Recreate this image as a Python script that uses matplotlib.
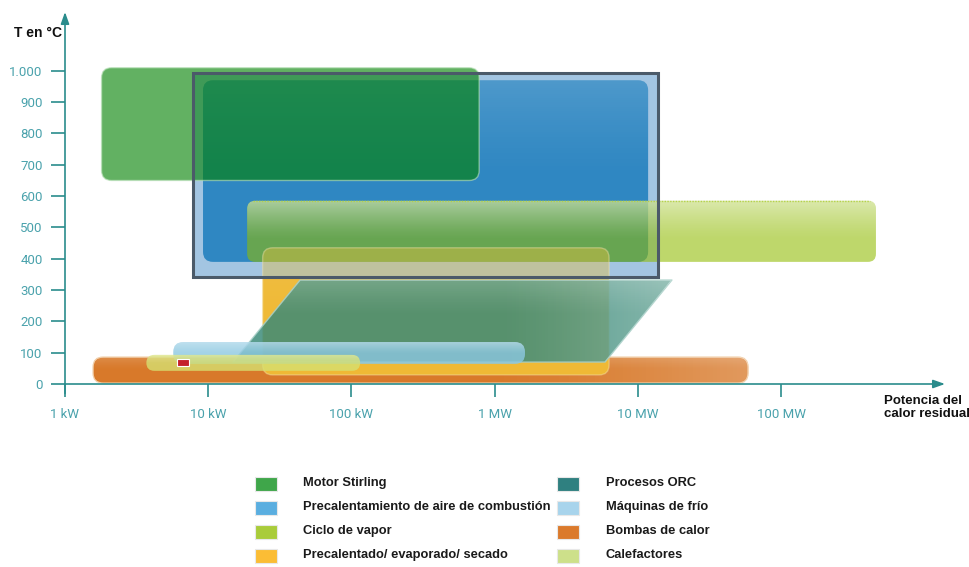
import numpy as np
import matplotlib.pyplot as plt
from matplotlib.patches import FancyBboxPatch, Polygon, Rectangle

# Ranges per technology: power in kW, temperature in °C
stirling_kw = (1.8, 780)
stirling_t = (650, 1010)
aire_kw = (9.2, 11800)
aire_t = (390, 970)
aire_zona_kw = (7.8, 13800)
aire_zona_t = (342, 994)
vapor_kw = (18.7, 460000)
vapor_t = (390, 585)
secado_kw = (24, 6300)
secado_t = (29, 435)
# ORC is a slanted band: (bottom-left, bottom-right, top-right, top-left)
orc_kw = (14.9, 5900, 17300, 43.8)
orc_t = (70, 332)
frio_kw = (5.7, 1630)
frio_t = (64, 134)
bombas_kw = (1.57, 58900)
bombas_t = (3, 86)
calef_kw = (3.7, 115)
calef_t = (42, 93)
marca_kw = (6.1, 7.3)
marca_t = (57, 80)

y_ticks = [0, 100, 200, 300, 400, 500, 600, 700, 800, 900, 1000]
y_labels = ['0', '100', '200', '300', '400', '500', '600', '700', '800', '900', '1.000']
x_ticks_kw = [1, 10, 100, 1000, 10000, 100000]
x_labels = ['1 kW', '10 kW', '100 kW', '1 MW', '10 MW', '100 MW']

legend_left = ['Motor Stirling', 'Precalentamiento de aire de combustión',
               'Ciclo de vapor', 'Precalentado/ evaporado/ secado']
legend_right = ['Procesos ORC', 'Máquinas de frío', 'Bombas de calor', 'Calefactores']
colors_left = ['#3fa64a', '#5aaee0', '#a9cc3a', '#fbbd35']
colors_right = ['#2f8080', '#a8d4ec', '#db7a2c', '#cde08a']

AXIS = '#2a8c8c'
TICK_TXT = '#4aa2ac'

W_PX, H_PX = 969, 567
fig = plt.figure(figsize=(W_PX / 100, H_PX / 100), dpi=100)
fig.patch.set_facecolor('white')

# x in decades of kW; 1 kW sits on the vertical axis
x_max = 6.145
y_max = 1188
ax = fig.add_axes([65 / W_PX, 1 - 384 / H_PX, 880 / W_PX, 372 / H_PX])
ax.set_xlim(0, x_max)
ax.set_ylim(0, y_max)

# rounded corners: ~8 px radius in both directions
px_x = x_max / 880
px_y = y_max / 372
aspect = px_y / px_x


def lx(v):
    return np.log10(v)


def rbox(kw, t, color, alpha=1.0, z=1, r=8, ec='none', lw=0, ls='-'):
    x0, x1 = lx(kw[0]), lx(kw[1])
    p = FancyBboxPatch((x0, t[0]), x1 - x0, t[1] - t[0],
                       boxstyle=f'round,pad=0,rounding_size={r * px_x}',
                       mutation_aspect=aspect, fc=color, ec=ec, lw=lw, ls=ls,
                       alpha=alpha, zorder=z)
    ax.add_patch(p)
    return p


def sheen(p, z, strength=0.35, start=0.45, horizontal=False, ext=None):
    # white highlight fading in towards the top (or the right) of a shape
    if ext is None:
        x0, y0 = p.get_x(), p.get_y()
        ext = (x0, x0 + p.get_width(), y0, y0 + p.get_height())
    g = np.linspace(0, 1, 64)
    a = strength * np.clip((g - start) / (1 - start), 0, 1) ** 1.3
    rgba = np.ones((64, 1, 4)) if not horizontal else np.ones((1, 64, 4))
    rgba[..., 3] = a.reshape(rgba.shape[:2])
    im = ax.imshow(rgba, extent=ext, origin='lower', aspect='auto', zorder=z,
                   interpolation='bilinear')
    im.set_clip_path(p)


# bottom layer
p = rbox(bombas_kw, bombas_t, '#d8792a', z=2, r=10, ec='#f2cfa8', lw=0.9)
sheen(p, 2.1, 0.24, start=0.6, horizontal=True)
sheen(p, 2.2, 0.15, start=0.5)

# drying band: solid body underneath, translucent veil further up
p = rbox(secado_kw, secado_t, '#f5b52e', z=2.5, r=10)
sheen(p, 2.6, 0.12, start=0.3)

# combustion air preheating: pale zone plus core
ax.add_patch(Rectangle((lx(aire_zona_kw[0]), aire_zona_t[0]),
                       lx(aire_zona_kw[1]) - lx(aire_zona_kw[0]),
                       aire_zona_t[1] - aire_zona_t[0],
                       fc='#a3c5e2', ec='none', zorder=3))
p = rbox(aire_kw, aire_t, '#2f87c2', z=3.2, r=10)
sheen(p, 3.3, 0.15)

p = rbox(stirling_kw, stirling_t, '#028102', alpha=0.62, z=4, r=10,
         ec='#b8e0b8', lw=1.0)

p = rbox(vapor_kw, vapor_t, '#90bb00', alpha=0.58, z=5, r=8)
sheen(p, 5.1, 0.45, start=0.35)
ax.plot([lx(vapor_kw[0]) + 6 * px_x, lx(vapor_kw[1]) - 6 * px_x], [vapor_t[1]] * 2,
        ls=(0, (1, 1)), color='#b5d24a', lw=1.0, zorder=5.2)

p = rbox(secado_kw, secado_t, '#e8c040', alpha=0.42, z=6, r=10,
         ec='#f4e4b0', lw=1.0)

orc_pts = [(lx(orc_kw[0]), orc_t[0]), (lx(orc_kw[1]), orc_t[0]),
           (lx(orc_kw[2]), orc_t[1]), (lx(orc_kw[3]), orc_t[1])]
p = Polygon(orc_pts, closed=True, fc='#3a8a78', ec='#a8d0c8', lw=1.0,
            alpha=0.84, zorder=7, joinstyle='round')
ax.add_patch(p)
orc_ext = (lx(orc_kw[0]), lx(orc_kw[2]), orc_t[0], orc_t[1])
sheen(p, 7.1, 0.26, start=0.6, horizontal=True, ext=orc_ext)
sheen(p, 7.2, 0.18, start=0.55, ext=orc_ext)

p = rbox(frio_kw, frio_t, '#8cc8e2', alpha=0.8, z=8, r=10)
sheen(p, 8.1, 0.3)

p = rbox(calef_kw, calef_t, '#d6e070', alpha=0.8, z=9, r=8)
sheen(p, 9.1, 0.2)

ax.add_patch(Rectangle((lx(marca_kw[0]), marca_t[0]),
                       lx(marca_kw[1]) - lx(marca_kw[0]), marca_t[1] - marca_t[0],
                       fc='#c4202c', ec='white', lw=0.8, zorder=10))

# dark outline round the air preheating zone
ax.add_patch(Rectangle((lx(aire_zona_kw[0]), aire_zona_t[0]),
                       lx(aire_zona_kw[1]) - lx(aire_zona_kw[0]),
                       aire_zona_t[1] - aire_zona_t[0],
                       fc='none', ec='#4b5a69', lw=2.2, zorder=11))

# axes drawn as arrows
for s in ax.spines.values():
    s.set_visible(False)
ax.annotate('', xy=(x_max, 0), xytext=(0, 0),
            arrowprops=dict(arrowstyle='-|>,head_length=0.7,head_width=0.25',
                            color=AXIS, lw=1.2, shrinkA=0, shrinkB=0),
            zorder=12, annotation_clip=False)
ax.annotate('', xy=(0, y_max), xytext=(0, -30),
            arrowprops=dict(arrowstyle='-|>,head_length=0.7,head_width=0.25',
                            color=AXIS, lw=1.2, shrinkA=0, shrinkB=0),
            zorder=12, annotation_clip=False)

ax.set_yticks(y_ticks)
ax.set_yticklabels(y_labels)
ax.set_xticks(lx(np.array(x_ticks_kw)))
ax.set_xticklabels(x_labels)
ax.tick_params(axis='y', direction='out', length=10, width=1.2, color=AXIS,
               labelcolor=TICK_TXT, labelsize=9.5, pad=6)
ax.tick_params(axis='x', direction='out', length=9, width=1.2, color=AXIS,
               labelcolor=TICK_TXT, labelsize=9.5, pad=8)
for lab in ax.get_xticklabels() + ax.get_yticklabels():
    lab.set_family('Roboto')

fig.text(14 / W_PX, 1 - 33 / H_PX, 'T en °C', fontsize=10, fontweight='bold',
         family='Liberation Sans', va='center', ha='left', color='#111111')
fig.text(884 / W_PX, 1 - 395 / H_PX, 'Potencia del\ncalor residual', fontsize=9.5,
         fontweight='bold', family='Liberation Sans', va='top', ha='left',
         color='#111111', linespacing=1.15)

# legend, two columns
rows_y = [484, 508, 532, 556]
for col, (labels, cols, px_patch, px_text) in enumerate(
        [(legend_left, colors_left, 255, 303), (legend_right, colors_right, 557, 606)]):
    for lab, c, yy in zip(labels, cols, rows_y):
        fig.patches.append(Rectangle((px_patch / W_PX, 1 - (yy + 7) / H_PX),
                                     22 / W_PX, 14 / H_PX, fc=c, ec='#e8e8e8',
                                     lw=0.8, transform=fig.transFigure,
                                     figure=fig))
        fig.text(px_text / W_PX, 1 - (yy - 1) / H_PX, lab, fontsize=9.3,
                 fontweight='bold', family='Liberation Sans', va='center',
                 ha='left', color='#1a1a1a')

fig.savefig('out.png', dpi=100)
